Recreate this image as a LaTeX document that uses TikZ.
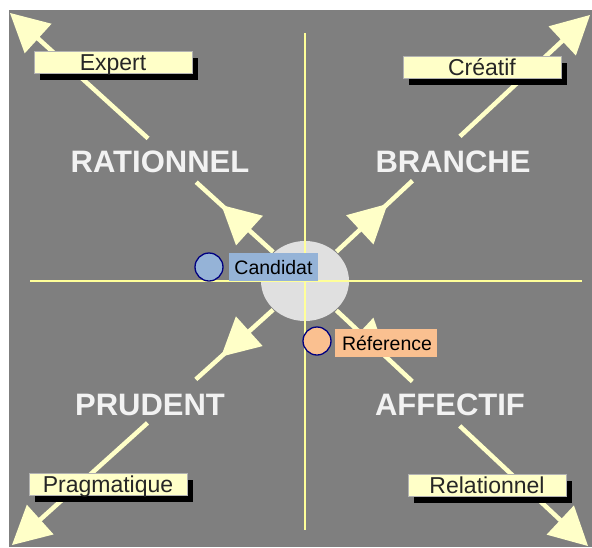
\documentclass[tikz,border=0pt]{standalone}
\usepackage{fontspec}
\setmainfont{Liberation Sans}
\usetikzlibrary{calc,shapes.geometric}
\definecolor{bg}{HTML}{7F7F7F}
\definecolor{cream}{HTML}{FFFFC8}
\definecolor{crossline}{HTML}{FFFF99}
\definecolor{hub}{HTML}{E0E0E0}
\definecolor{candblue}{HTML}{95B3D7}
\definecolor{reforange}{HTML}{FAC090}
\definecolor{navy}{HTML}{000080}
\definecolor{labelwhite}{HTML}{F2F2F2}
\tikzset{
  arrowline/.style={draw=cream, line width=4.5pt},
  arrowhead/.style={fill=cream, draw=none},
  crosslinestyle/.style={draw=crossline, line width=1.2pt},
  shadowbox/.style={fill=black, draw=none, inner sep=0pt, minimum width=158pt, minimum height=22pt},
  creambox/.style={fill=cream, draw=black!30, line width=0.3pt, inner sep=0pt, minimum width=158pt, minimum height=22pt},
  boxtext/.style={font=\fontsize{23}{23}\selectfont, text=black!85, inner sep=0pt, anchor=base},
  biglabel/.style={font=\fontsize{31}{31}\selectfont\bfseries, text=labelwhite, inner sep=0pt},
  markcircle/.style={circle, draw=navy, line width=1.3pt, minimum size=28pt, inner sep=0pt},
  tagbox/.style={inner sep=0pt, text=black},
  tagtext/.style={font=\fontsize{19.5}{19.5}\selectfont, text=black, inner sep=0pt, anchor=base},
}
\begin{document}
\begin{tikzpicture}[x=1pt,y=-1pt]
\useasboundingbox (0,0) rectangle (592,547);
\fill[white] (0,0) rectangle (592,547);
\fill[bg] (9,10) rectangle (592,547);
% cross lines
\coordinate (hl) at (30,281);
\coordinate (hr) at (582,281);
\coordinate (vt) at (305,33);
\coordinate (vb) at (305,530);
% hub
\node[ellipse, fill=hub, minimum width=88pt, minimum height=80pt, inner sep=0pt] (c) at (305,281) {};
\draw[crosslinestyle] (hl) -- (hr);
\draw[crosslinestyle] (vt) -- (vb);
% corner tips
\coordinate (tUL) at (10,13);
\coordinate (tUR) at (590,15);
\coordinate (tLL) at (12,545);
\coordinate (tLR) at (588,546);
\foreach \t in {tUL,tUR,tLL,tLR}{
  % inner arrow
  \draw[arrowline] ($(c.center)!43pt!(\t)$) -- ($(c.center)!147pt!(\t)$);
  \coordinate (ib) at ($(c.center)!75pt!(\t)$);
  \fill[arrowhead] ($(c.center)!113pt!(\t)$) -- ($(ib)!20pt!90:(\t)$) -- ($(ib)!20pt!-90:(\t)$) -- cycle;
  % outer arrow
  \draw[arrowline] ($(c.center)!212pt!(\t)$) -- ($(\t)!30pt!(c.center)$);
  \coordinate (ob) at ($(\t)!38pt!(c.center)$);
  \fill[arrowhead] (\t) -- ($(ob)!20pt!90:(c.center)$) -- ($(ob)!20pt!-90:(c.center)$) -- cycle;
}
% boxes with shadows
\node[shadowbox] at (119,69) {};
\node[creambox] (bExp) at (113,62) {};
\node[boxtext] at ($(bExp.center)+(0,8)$) {Expert};
\node[shadowbox] at (488,74) {};
\node[creambox] (bCre) at (482,67) {};
\node[boxtext] at ($(bCre.center)+(0,8)$) {Créatif};
\node[shadowbox] at (114,491) {};
\node[creambox] (bPra) at (108,484) {};
\node[boxtext] at ($(bPra.center)+(0,8)$) {Pragmatique};
\node[shadowbox] at (493,492) {};
\node[creambox] (bRel) at (487,485) {};
\node[boxtext] at ($(bRel.center)+(0,8)$) {Relationnel};
% big labels
\node[biglabel] (lR) at (160,162) {RATIONNEL};
\node[biglabel] (lB) at (453,162) {BRANCHE};
\node[biglabel] (lP) at (150,405) {PRUDENT};
\node[biglabel] (lA) at (450,405) {AFFECTIF};
% candidate / reference tags
\node[tagbox, fill=candblue, minimum width=89pt, minimum height=28pt] (tC) at (273.5,267) {};
\node[tagtext] at ($(tC.center)+(0,7)$) {Candidat};
\node[markcircle, fill=candblue] (mC) at (209,267) {};
\node[tagbox, fill=reforange, minimum width=102pt, minimum height=28pt] (tR) at (386,343) {};
\node[tagtext] at ($(tR.center)+(1,7)$) {Réference};
\node[markcircle, fill=reforange] (mR) at (317,341) {};
\end{tikzpicture}
\end{document}
